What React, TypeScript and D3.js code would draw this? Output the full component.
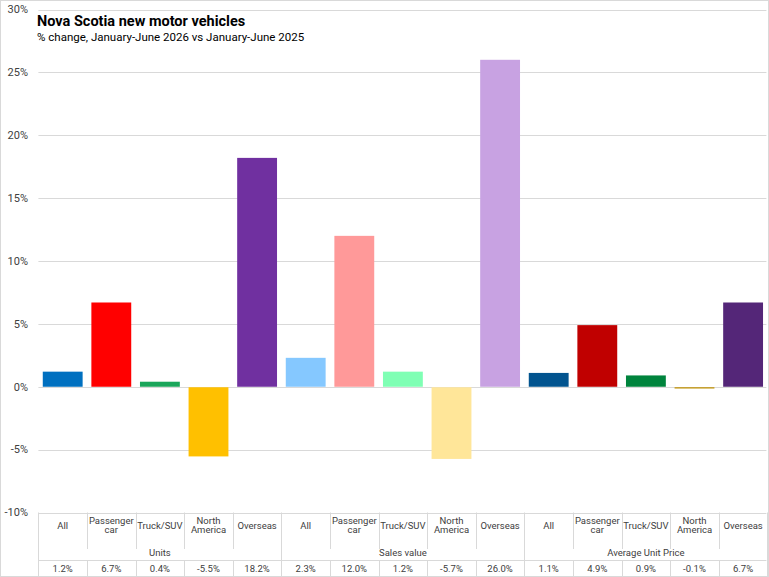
import React, { useRef, useEffect } from 'react';
import * as d3 from 'd3';

const groups = ['Units', 'Sales value', 'Average Unit Price'];
const categories = ['All', 'Passenger car', 'Truck/SUV', 'North America', 'Overseas'];
const unitsValues = [1.2, 6.7, 0.4, -5.5, 18.2];
const salesValues = [2.3, 12.0, 1.2, -5.7, 26.0];
const priceValues = [1.1, 4.9, 0.9, -0.1, 6.7];
const unitsColors = ['#0070C0', '#FF0000', '#1AA65A', '#FFC000', '#7030A0'];
const salesColors = ['#85C8FF', '#FF9999', '#7FFFB4', '#FFE699', '#C8A2E2'];
const priceColors = ['#02548F', '#C00000', '#00843D', '#BF8F00', '#542678'];
const yTicks = [-10, -5, 0, 5, 10, 15, 20, 25, 30];

const W = 769;
const H = 577;
const FONT = 'Roboto, "Noto Sans", sans-serif';

const App: React.FC = () => {
  const svgRef = useRef<SVGSVGElement | null>(null);

  useEffect(() => {
    const svg = d3.select(svgRef.current);
    svg.selectAll('*').remove();

    const left = 38.4;
    const right = 767.4;
    const top = 9.5;
    const bottom = 512.5;

    const seriesVals = [unitsValues, salesValues, priceValues];
    const seriesCols = [unitsColors, salesColors, priceColors];
    const rows = groups.flatMap((g, gi) =>
      categories.map((c, ci) => ({
        key: `${gi}-${ci}`,
        group: g,
        gi,
        cat: c,
        value: seriesVals[gi][ci],
        color: seriesCols[gi][ci],
      }))
    );

    const x = d3.scaleBand()
      .domain(rows.map(d => d.key))
      .range([left, right])
      .paddingInner(0.18)
      .paddingOuter(0.09);

    const step = x.step();

    const y = d3.scaleLinear()
      .domain([-10, 30])
      .range([bottom, top]);

    // chart border
    svg.append('rect')
      .attr('x', 0.5).attr('y', 0.5)
      .attr('width', W - 1).attr('height', H - 1)
      .attr('fill', '#fff')
      .attr('stroke', '#D9D9D9');

    // gridlines
    svg.append('g')
      .selectAll('line')
      .data(yTicks)
      .enter()
      .append('line')
      .attr('x1', left)
      .attr('x2', right - 1)
      .attr('y1', d => Math.round(y(d)) + 0.5)
      .attr('y2', d => Math.round(y(d)) + 0.5)
      .attr('stroke', '#D9D9D9')
      .attr('stroke-width', 1);

    // y tick labels
    svg.append('g')
      .selectAll('text')
      .data(yTicks)
      .enter()
      .append('text')
      .attr('x', 28)
      .attr('y', d => y(d))
      .attr('dy', '0.35em')
      .attr('text-anchor', 'end')
      .style('font-family', FONT)
      .style('font-size', '11px')
      .style('fill', '#404040')
      .text(d => `${d}%`);

    // bars (negative ones start just under the zero line)
    svg.append('g')
      .selectAll('rect')
      .data(rows)
      .enter()
      .append('rect')
      .attr('x', d => x(d.key) as number)
      .attr('width', x.bandwidth())
      .attr('y', d => d.value >= 0 ? y(d.value) : y(0) + 0.5)
      .attr('height', d => Math.max(1.2, Math.abs(y(d.value) - y(0))))
      .attr('fill', d => d.color);

    // category table
    const catBottom = 549;
    const groupBottom = 560;
    const tableBottom = 576;
    const boundaries = d3.range(0, rows.length + 1).map(i => Math.round(left + i * step) + 0.5);
    const line = (x1: number, y1: number, x2: number, y2: number) =>
      svg.append('line')
        .attr('x1', x1).attr('y1', y1).attr('x2', x2).attr('y2', y2)
        .attr('stroke', '#D9D9D9');

    boundaries.forEach((bx, i) => {
      if (i % 5 === 0) {
        line(bx, bottom, bx, tableBottom);
      } else {
        line(bx, bottom, bx, catBottom);
        line(bx, groupBottom, bx, tableBottom);
      }
    });
    line(left, groupBottom + 0.5, right - 1, groupBottom + 0.5);
    line(left, tableBottom + 0.5, right - 1, tableBottom + 0.5);

    const labelG = svg.append('g')
      .style('font-family', FONT)
      .style('font-size', '9.5px')
      .style('fill', '#404040');

    rows.forEach((d, i) => {
      const cx = left + (i + 0.5) * step;
      const words = d.cat === 'Passenger car' ? ['Passenger', 'car']
        : d.cat === 'North America' ? ['North', 'America'] : [d.cat];
      const t = labelG.append('text')
        .attr('text-anchor', 'middle');
      words.forEach((w, wi) => {
        t.append('tspan')
          .attr('x', cx)
          .attr('y', words.length === 1 ? 528.5 : 523.5 + wi * 9.5)
          .text(w);
      });
      labelG.append('text')
        .attr('x', cx)
        .attr('y', 571.5)
        .attr('text-anchor', 'middle')
        .text(`${d.value.toFixed(1)}%`);
    });

    groups.forEach((g, gi) => {
      labelG.append('text')
        .attr('x', left + (gi * 5 + 2.5) * step)
        .attr('y', 555.5)
        .attr('text-anchor', 'middle')
        .text(g);
    });

    // title
    svg.append('text')
      .attr('x', 37)
      .attr('y', 26)
      .style('font-family', FONT)
      .style('font-size', '14.5px')
      .style('font-weight', 'bold')
      .style('fill', '#000')
      .text('Nova Scotia new motor vehicles');

    svg.append('text')
      .attr('x', 37)
      .attr('y', 41)
      .style('font-family', FONT)
      .style('font-size', '11.5px')
      .style('fill', '#000')
      .text('% change, January-June 2026 vs January-June 2025');
  }, []);

  return (
    <div style={{ position: 'absolute', left: 0, top: 0 }}>
      <svg ref={svgRef} width={W} height={H} style={{ display: 'block' }}></svg>
    </div>
  );
};

export default App;
